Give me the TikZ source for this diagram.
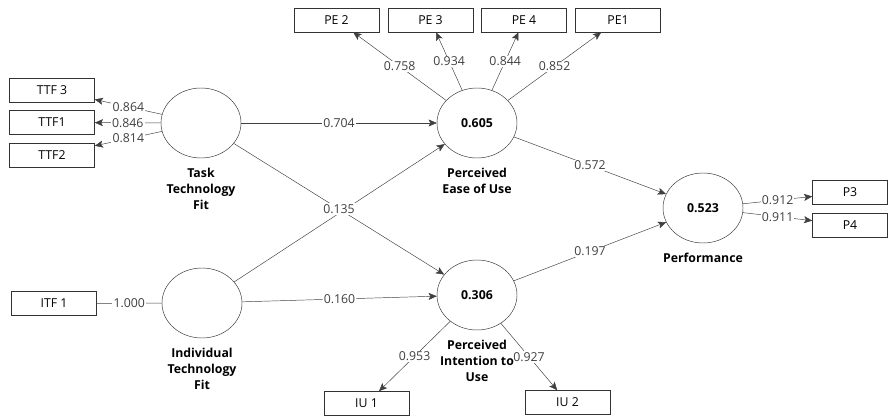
\documentclass[tikz,border=0pt]{standalone}
\usepackage{fontspec}
\setmainfont{Open Sans}
\usetikzlibrary{arrows.meta,positioning,shapes.geometric}
\begin{document}
\begin{tikzpicture}[x=0.03cm,y=-0.03cm,
  ind/.style={draw=black!80,minimum width=2.55cm,minimum height=0.72cm,inner sep=0pt,font=\fontsize{10.5}{12}\selectfont},
  lv/.style={draw=black!80,ellipse,minimum width=2.4cm,minimum height=2.1cm,inner sep=0pt,font=\bfseries\fontsize{10.5}{12}\selectfont},
  lvname/.style={align=center,below=8pt of #1,inner sep=0pt,font=\bfseries\fontsize{10.5}{13.8}\selectfont},
  arr/.style={draw=black!75,-{Stealth[length=7pt,width=6pt,inset=1.5pt]}},
  coef/.style={fill=white,inner sep=1pt,text=black!75,font=\fontsize{10.5}{12}\selectfont}]
  \useasboundingbox (0,0) rectangle (888,417);
  \node[lv] (ttf) at (201,123) {};
  \node[lv] (itf) at (202,303) {};
  \node[lv] (peou) at (477,123) {0.605};
  \node[lv] (piu) at (477,295) {0.306};
  \node[lv] (perf) at (703,208) {0.523};
  \node[ind] (ttf3) at (52,90) {TTF 3};
  \node[ind] (ttf1) at (52,122.5) {TTF1};
  \node[ind] (ttf2) at (52,155) {TTF2};
  \node[ind] (itf1) at (54,303.5) {ITF 1};
  \node[ind] (iu1) at (366.5,403.5) {IU 1};
  \node[ind] (iu2) at (567.5,402.5) {IU 2};
  \node[ind,minimum width=2.25cm] (p3) at (850,192.5) {P3};
  \node[ind,minimum width=2.25cm] (p4) at (850,225) {P4};
  \foreach \n/\x/\t/\v in {pe2/336.5/PE 2/0.758, pe3/430.5/PE 3/0.934, pe4/524/PE 4/0.844, pe1/618/PE1/0.852}
  {
    \node[ind] (\n) at (\x,20) {\t};
    \draw[arr] (peou) -- node[coef] {\v} (\n);
  }
  \draw[arr] (ttf) -- node[coef] {0.864} (ttf3);
  \draw[arr] (ttf) -- node[coef] {0.846} (ttf1);
  \draw[arr] (ttf) -- node[coef] {0.814} (ttf2);
  \draw[draw=black!75] (itf1) -- node[coef] {1.000} (itf);
  \draw[arr] (piu) -- node[coef] {0.953} (iu1);
  \draw[arr] (piu) -- node[coef] {0.927} (iu2);
  \draw[arr] (perf) -- node[coef] {0.912} (p3);
  \draw[arr] (perf) -- node[coef] {0.911} (p4);
  \draw[arr] (ttf) -- node[coef] {0.704} (peou);
  \draw[arr] (itf) -- (peou);
  \draw[arr] (ttf) -- node[coef] {0.135} (piu);
  \draw[arr] (itf) -- node[coef] {0.160} (piu);
  \draw[arr] (peou) -- node[coef] {0.572} (perf);
  \draw[arr] (piu) -- node[coef] {0.197} (perf);
  \node[lvname=ttf] (ttfname) {Task\\Technology\\Fit};
  \node[lvname=itf] (itfname) {Individual\\Technology\\Fit};
  \node[lvname=peou] (peouname) {Perceived\\Ease of Use};
  \node[lvname=piu] (piuname) {Perceived\\Intention to\\Use};
  \node[lvname=perf] (perfname) {Performance};
\end{tikzpicture}
\end{document}
